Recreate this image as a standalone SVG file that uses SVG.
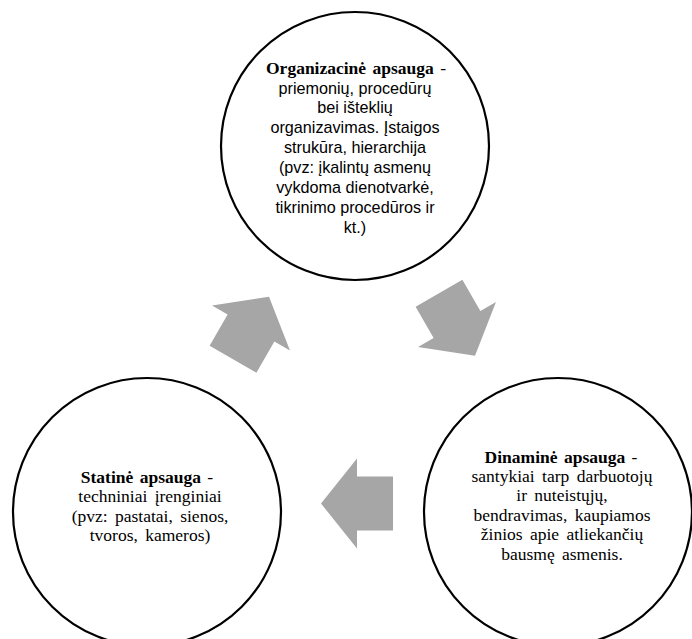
<svg xmlns="http://www.w3.org/2000/svg" width="692" height="639" viewBox="0 0 692 639">
<style>
.c{fill:#fff;stroke:#000;stroke-width:2.2}
.ar{fill:#a6a6a6;stroke:none}
.h{font-family:"Liberation Serif","Times New Roman",serif;font-size:17.5px;font-weight:bold;text-anchor:middle;fill:#000;word-spacing:2px}
.s{font-family:"Liberation Serif","Times New Roman",serif;font-size:17.5px;text-anchor:middle;fill:#000;word-spacing:3px}
.n{font-family:"Liberation Sans",Arial,sans-serif;font-size:16.2px;text-anchor:middle;fill:#000}
</style>
<defs>
<path id="arr" d="M-36,-27 L0,-27 L0,-45 L36,0 L0,45 L0,27 L-36,27 Z"/>
</defs>
<rect width="692" height="639" fill="#fff"/>
<g id="connectors">
<use href="#arr" class="ar" transform="translate(251,328) rotate(-60)"/>
<use href="#arr" class="ar" transform="translate(457,324.5) rotate(60)"/>
<use href="#arr" class="ar" transform="translate(357,503.5) rotate(180)"/>
</g>
<g id="organizacine">
<circle class="c" cx="355" cy="146" r="134"/>
<text class="h" x="356" y="74">Organizacinė apsauga <tspan font-weight="normal">-</tspan></text>
<text class="n" x="355" y="94">priemonių, procedūrų</text>
<text class="n" x="355" y="113">bei išteklių</text>
<text class="n" x="355" y="133">organizavimas. Įstaigos</text>
<text class="n" x="355" y="153">strukūra, hierarchija</text>
<text class="n" x="355" y="173">(pvz: įkalintų asmenų</text>
<text class="n" x="355" y="193">vykdoma dienotvarkė,</text>
<text class="n" x="355" y="213">tikrinimo procedūros ir</text>
<text class="n" x="355" y="233">kt.)</text>
</g>
<g id="statine">
<circle class="c" cx="147" cy="512" r="134"/>
<text class="h" x="147" y="483">Statinė apsauga <tspan font-weight="normal">-</tspan></text>
<text class="s" x="150" y="502">techniniai įrenginiai</text>
<text class="s" x="150" y="522">(pvz: pastatai, sienos,</text>
<text class="s" x="150" y="541">tvoros, kameros)</text>
</g>
<g id="dinamine">
<circle class="c" cx="558" cy="512" r="134"/>
<text class="h" x="561" y="463">Dinaminė apsauga <tspan font-weight="normal">-</tspan></text>
<text class="s" x="562" y="482">santykiai tarp darbuotojų</text>
<text class="s" x="562" y="501">ir nuteistųjų,</text>
<text class="s" x="562" y="521">bendravimas, kaupiamos</text>
<text class="s" x="562" y="540">žinios apie atliekančių</text>
<text class="s" x="562" y="560">bausmę asmenis.</text>
</g>
</svg>
